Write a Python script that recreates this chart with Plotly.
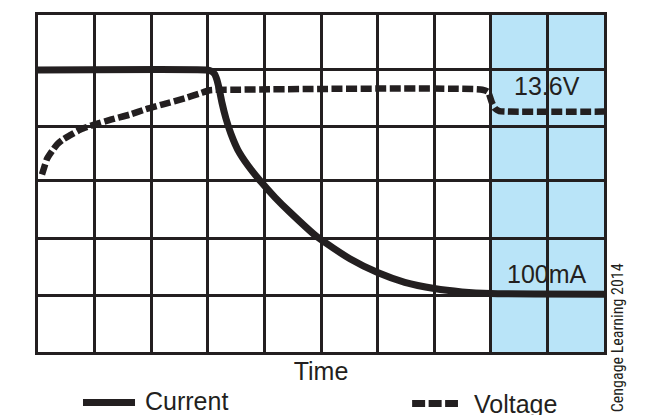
import plotly.graph_objects as go

# ---- data (time in grid divisions, level in grid divisions) ----
current_time = [0, 2.97, 3.06, 3.12, 3.16, 3.2, 3.25, 3.32, 3.41, 3.53, 3.71, 3.94, 4.19,
                4.45, 4.93, 5.51, 6.01, 6.48, 7.0, 7.49, 8.0, 10.0]
current_level = [5.02, 5.02, 5.0, 4.95, 4.85, 4.69, 4.44, 4.16, 3.88, 3.6, 3.32, 3.03, 2.75,
                 2.49, 2.05, 1.66, 1.41, 1.24, 1.13, 1.07, 1.04, 1.03]

voltage_time = [0.07, 0.12, 0.16, 0.25, 0.34, 0.45, 0.57, 0.75, 0.97, 1.3, 1.63, 1.9, 2.21,
                2.6, 2.85, 3.04, 3.5, 7.85, 7.95, 8.02, 8.08, 8.15, 8.3, 10.0]
voltage_level = [3.16, 3.32, 3.44, 3.58, 3.7, 3.79, 3.86, 3.96, 4.04, 4.14, 4.23, 4.32, 4.41,
                 4.52, 4.6, 4.66, 4.67, 4.67, 4.63, 4.44, 4.33, 4.29, 4.28, 4.28]

grid_x = [0, 1, 2, 3, 4, 5, 6, 7, 8, 9, 10]
grid_y = [0, 1.0, 2.02, 3.05, 4.02, 5.03, 6]

float_start, float_end = 8, 10
labels = [("13.6V", 9.0, 4.74), ("100mA", 9.0, 1.38)]
series_names = ["Current", "Voltage"]

INK = "#231f20"
BLUE = "#b9e4f8"
FONT = "Liberation Sans, Arial, Helvetica, sans-serif"

fig = go.Figure()
fig.add_trace(go.Scatter(x=current_time, y=current_level, mode="lines", name=series_names[0],
                         line=dict(color=INK, width=7, shape="spline", smoothing=0.5),
                         showlegend=False, hoverinfo="skip"))
fig.add_trace(go.Scatter(x=voltage_time, y=voltage_level, mode="lines", name=series_names[1],
                         line=dict(color=INK, width=6.5, dash="11px,3.5px", shape="spline",
                                   smoothing=0.6),
                         showlegend=False, hoverinfo="skip"))

# shaded float-charge region
fig.add_shape(type="rect", xref="x", yref="y", x0=float_start, x1=float_end, y0=0, y1=6,
              fillcolor=BLUE, line=dict(width=0), layer="below")

# legend samples (paper coords)
fig.add_shape(type="line", xref="paper", yref="paper", x0=0.0795, x1=0.1714, y0=-0.15, y1=-0.15,
              line=dict(color=INK, width=7))
fig.add_shape(type="line", xref="paper", yref="paper", x0=0.661, x1=0.742, y0=-0.153, y1=-0.153,
              line=dict(color=INK, width=7, dash="13px,3.5px"))

annotations = []
for txt, x, y in labels:
    annotations.append(dict(text=txt, x=x, y=y, xref="x", yref="y", showarrow=False,
                            xanchor="center", yanchor="middle",
                            font=dict(family=FONT, size=25, color=INK)))
annotations.append(dict(text=series_names[0], x=0.1855, y=-0.144, xref="paper", yref="paper",
                        showarrow=False, xanchor="left", yanchor="middle",
                        font=dict(family=FONT, size=25, color=INK)))
annotations.append(dict(text=series_names[1], x=0.767, y=-0.153, xref="paper", yref="paper",
                        showarrow=False, xanchor="left", yanchor="middle",
                        font=dict(family=FONT, size=25, color=INK)))
annotations.append(dict(text="\u00a9 Cengage Learning 2014", x=1.0247, y=0.27, xref="paper",
                        yref="paper", showarrow=False, textangle=-90, xanchor="center",
                        yanchor="top",
                        font=dict(family="Liberation Sans Narrow, Roboto Condensed, Arial Narrow, Liberation Sans, sans-serif",
                                  size=16, color=INK)))

axis_common = dict(showgrid=True, gridcolor=INK, gridwidth=2.5, showline=True, linecolor=INK,
                   linewidth=3, mirror=True, showticklabels=False, ticks="", zeroline=False,
                   fixedrange=True, tickmode="array")

# page body has an 8px default margin, so the figure is sized/margined to compensate
fig.update_layout(
    width=649, height=407,
    margin=dict(l=30, r=53, t=4, b=63),
    paper_bgcolor="white", plot_bgcolor="white",
    xaxis=dict(range=[0, 10], tickvals=grid_x,
               title=dict(text="Time", standoff=9, font=dict(family=FONT, size=25, color=INK)),
               **axis_common),
    yaxis=dict(range=[0, 6], tickvals=grid_y, **axis_common),
    annotations=annotations,
    showlegend=False,
)

fig.write_html("out.html")
